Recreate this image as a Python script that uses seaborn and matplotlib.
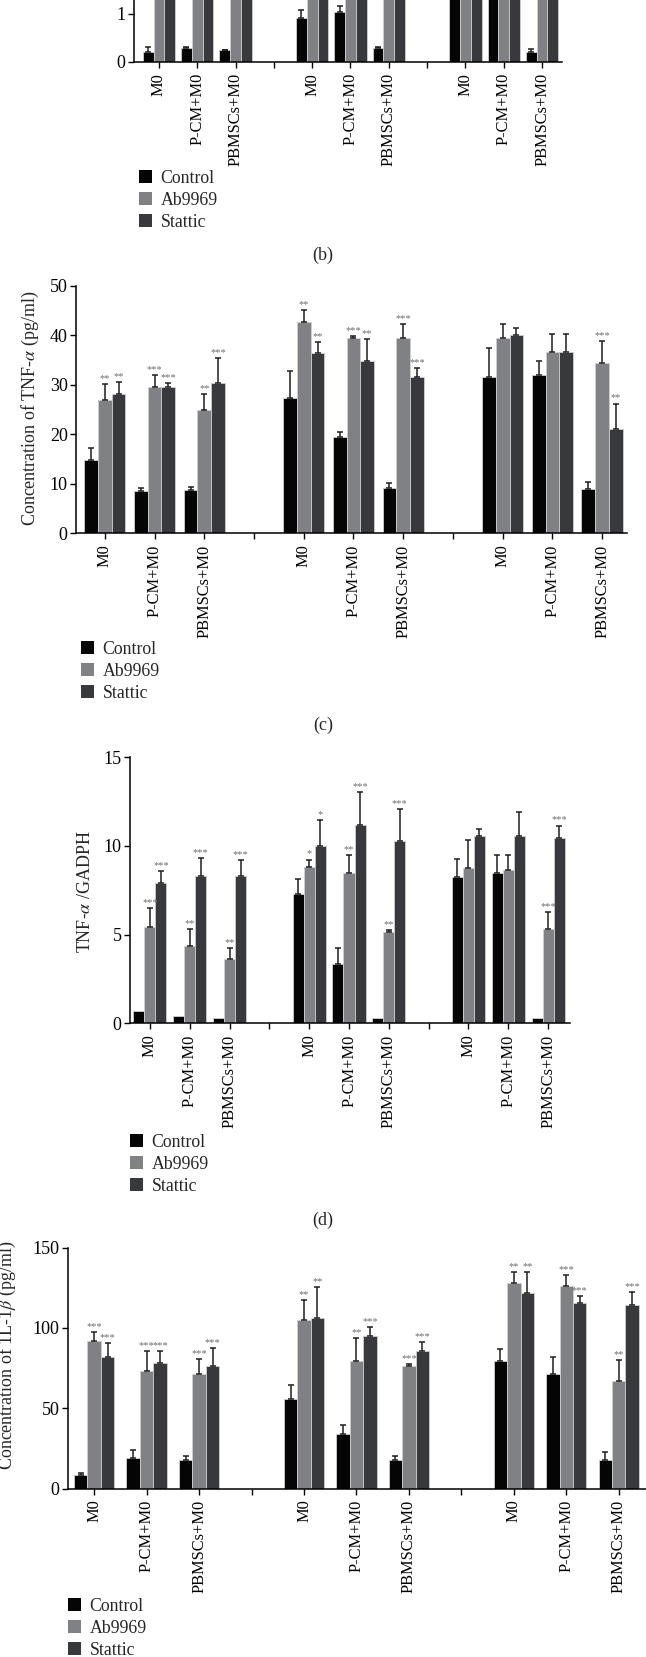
import numpy as np
import pandas as pd
import matplotlib
matplotlib.use("Agg")
import matplotlib.pyplot as plt
from matplotlib.patches import Patch
import seaborn as sns

# ---- data ----
groups = ['M0', 'P-CM+M0', 'PBMSCs+M0'] * 3
treatments = ['Control', 'Ab9969', 'Stattic']
colors = ['#050505', '#808184', '#38393d']

# slot layout: 3 clusters of 3 groups with one empty slot between clusters
slots = [0, 1, 2, 4, 5, 6, 8, 9, 10]
tick_labels = ['M0', 'P-CM+M0', 'PBMSCs+M0', '', 'M0', 'P-CM+M0', 'PBMSCs+M0',
               '', 'M0', 'P-CM+M0', 'PBMSCs+M0']

# top panel (cut off at the top of the figure)
top_ctrl = [0.21, 0.29, 0.245, 0.91, 1.05, 0.28, 1.9, 1.8, 0.21]
top_ctrl_err = [0.09, 0.02, 0.01, 0.17, 0.12, 0.03, 0.2, 0.2, 0.05]
top_ab = [3.1, 3.4, 2.9, 3.8, 3.6, 3.3, 3.5, 3.2, 3.0]
top_ab_err = [0.3, 0.3, 0.2, 0.4, 0.3, 0.3, 0.3, 0.3, 0.3]
top_st = [3.5, 3.6, 3.3, 4.0, 3.9, 3.7, 3.8, 3.6, 3.4]
top_st_err = [0.3, 0.3, 0.3, 0.3, 0.3, 0.3, 0.3, 0.3, 0.3]

# TNF-alpha concentration (pg/ml)
tnf_ctrl = [14.8, 8.6, 8.75, 27.4, 19.5, 9.2, 31.6, 31.9, 8.9]
tnf_ctrl_err = [2.4, 0.5, 0.7, 5.4, 1.0, 1.0, 5.9, 2.9, 1.5]
tnf_ab = [27.0, 29.5, 24.9, 42.6, 39.5, 39.5, 39.4, 36.7, 34.4]
tnf_ab_err = [3.1, 2.5, 3.2, 2.5, 0.3, 2.8, 2.9, 3.6, 4.4]
tnf_st = [28.2, 29.5, 30.3, 36.4, 34.7, 31.6, 40.1, 36.6, 21.1]
tnf_st_err = [2.3, 0.9, 5.0, 2.2, 4.6, 1.8, 1.4, 3.7, 5.1]
tnf_ab_sig = ['**', '***', '**', '**', '***', '***', '', '', '***']
tnf_st_sig = ['**', '***', '***', '**', '**', '***', '', '', '**']

# TNF-alpha / GADPH
gap_ctrl = [0.71, 0.41, 0.32, 7.27, 3.35, 0.32, 8.25, 8.46, 0.32]
gap_ctrl_err = [0, 0, 0, 0.85, 0.88, 0, 1.04, 1.05, 0]
gap_ab = [5.41, 4.34, 3.65, 8.80, 8.48, 5.17, 8.78, 8.65, 5.34]
gap_ab_err = [1.11, 0.96, 0.58, 0.43, 0.99, 0.09, 1.54, 0.86, 0.92]
gap_st = [7.93, 8.29, 8.29, 10.0, 11.17, 10.26, 10.58, 10.58, 10.43]
gap_st_err = [0.64, 1.03, 0.90, 1.45, 1.86, 1.83, 0.40, 1.36, 0.72]
gap_ab_sig = ['***', '**', '**', '*', '**', '**', '', '', '***']
gap_st_sig = ['***', '***', '***', '*', '***', '***', '', '', '***']

# IL-1beta concentration (pg/ml)
il_ctrl = [8.5, 19.0, 18.0, 55.6, 34.1, 18.0, 79.2, 71.3, 18.0]
il_ctrl_err = [1.2, 4.7, 2.4, 8.9, 5.5, 2.0, 7.7, 10.8, 4.5]
il_ab = [91.8, 73.4, 71.3, 104.7, 79.4, 76.5, 128.0, 126.4, 67.2]
il_ab_err = [5.8, 12.0, 9.1, 12.6, 14.3, 0.8, 6.7, 6.4, 13.0]
il_st = [81.7, 78.2, 76.3, 106.3, 95.0, 85.8, 122.0, 115.6, 114.6]
il_st_err = [9.1, 7.6, 11.4, 19.3, 5.3, 5.6, 12.9, 4.4, 7.7]
il_ab_sig = ['***', '***', '***', '**', '**', '***', '**', '***', '**']
il_st_sig = ['***', '***', '***', '**', '***', '***', '**', '***', '***']

sns.set_style('ticks')
plt.rcParams['font.family'] = ['Liberation Serif', 'DejaVu Serif']
plt.rcParams['mathtext.fontset'] = 'stix'

W, H = 646, 1657
fig = plt.figure(figsize=(W / 100, H / 100), dpi=100)
fig.patch.set_facecolor('white')


def px_axes(left, top, right, bottom):
    return fig.add_axes([left / W, 1 - bottom / H, (right - left) / W, (bottom - top) / H])


def draw_panel(ax, vals, errs, sigs, xlim, ylim, yticks, width):
    slot_names = ['s%d' % i for i in range(11)]
    rows = []
    for t, v in zip(treatments, vals):
        for k in range(9):
            rows.append({'slot': slot_names[slots[k]], 'Treatment': t, 'value': v[k]})
    df = pd.DataFrame(rows)
    sns.barplot(data=df, x='slot', y='value', hue='Treatment', order=slot_names,
                hue_order=treatments, palette=colors, width=width, errorbar=None,
                legend=False, edgecolor='#cfcfcf', linewidth=0.6, saturation=1, ax=ax)
    ax.set_xlim(*xlim)
    ax.set_ylim(*ylim)
    # one-sided error bars and significance stars
    bar_conts = list(ax.containers)
    for j, cont in enumerate(bar_conts):
        for bar in cont.patches:
            cx = bar.get_x() + bar.get_width() / 2
            h = bar.get_height()
            k = slots.index(int(round(cx)))
            e = errs[j][k]
            if e > 0:
                ax.errorbar(cx, h, yerr=[[0], [e]], fmt='none', ecolor='#1e1e1e',
                            elinewidth=1.1, capsize=2.2, capthick=1.1, zorder=3)
            if sigs is not None and j > 0 and sigs[j - 1][k]:
                ax.text(cx, h + e + (ylim[1] - ylim[0]) * 0.004, sigs[j - 1][k],
                        ha='center', va='bottom', fontsize=7.5, color='#6e6e6e')
    ax.set_xticks(range(11))
    ax.set_xticklabels(tick_labels, rotation=90, fontsize=11.8)
    ax.set_yticks(yticks)
    ax.set_yticklabels([str(t) for t in yticks], fontsize=13)
    ax.set_xlabel('')
    ax.set_ylabel('')
    ax.tick_params(axis='both', direction='out', length=4, width=1, colors='black')
    ax.tick_params(axis='x', pad=4)
    ax.tick_params(axis='y', pad=2)
    sns.despine(ax=ax)
    for s in ['left', 'bottom']:
        ax.spines[s].set_linewidth(1.1)
        ax.spines[s].set_color('black')


def add_legend(ax, x, y):
    handles = [Patch(facecolor=c, edgecolor='none') for c in colors]
    ax.legend(handles, treatments, loc='upper left', bbox_to_anchor=(x / W, 1 - y / H),
              bbox_transform=fig.transFigure, frameon=False, borderaxespad=0, borderpad=0,
              handlelength=0.72, handleheight=0.72, handletextpad=0.5,
              labelspacing=0.28, fontsize=12.8)


# top panel, only the lower part is inside the figure
ax0 = px_axes(134, -176.8, 562, 61.7)
draw_panel(ax0, [top_ctrl, top_ab, top_st], [top_ctrl_err, top_ab_err, top_st_err],
           None, (-0.65, 10.52), (0, 5), [0, 1], 0.84)
add_legend(ax0, 139, 170)
fig.text(323 / W, 1 - 255 / H, '(b)', ha='center', va='center', fontsize=13)

# TNF-alpha concentration
ax1 = px_axes(76, 285.7, 627, 533.3)
draw_panel(ax1, [tnf_ctrl, tnf_ab, tnf_st], [tnf_ctrl_err, tnf_ab_err, tnf_st_err],
           [tnf_ab_sig, tnf_st_sig], (-0.58, 10.5), (0, 50), [0, 10, 20, 30, 40, 50], 0.83)
add_legend(ax1, 81, 641)
fig.text(30 / W, 1 - 408 / H, r'Concentration of TNF-$\alpha$ (pg/ml)', rotation=90,
         ha='center', va='center', fontsize=13)
fig.text(323 / W, 1 - 725 / H, '(c)', ha='center', va='center', fontsize=13)

# TNF-alpha / GADPH
ax2 = px_axes(130, 757.3, 570, 1023.3)
draw_panel(ax2, [gap_ctrl, gap_ab, gap_st], [gap_ctrl_err, gap_ab_err, gap_st_err],
           [gap_ab_sig, gap_st_sig], (-0.5, 10.55), (0, 15), [0, 5, 10, 15], 0.83)
add_legend(ax2, 130, 1134)
fig.text(85 / W, 1 - 892 / H, r'TNF-$\alpha$ /GADPH', rotation=90,
         ha='center', va='center', fontsize=13)
fig.text(323 / W, 1 - 1220 / H, '(d)', ha='center', va='center', fontsize=13)

# IL-1beta concentration
ax3 = px_axes(68, 1247.7, 646, 1488.5)
draw_panel(ax3, [il_ctrl, il_ab, il_st], [il_ctrl_err, il_ab_err, il_st_err],
           [il_ab_sig, il_st_sig], (-0.5, 10.52), (0, 150), [0, 50, 100, 150], 0.77)
add_legend(ax3, 68, 1598)
fig.text(7 / W, 1 - 1355 / H, r'Concentration of 1L-1$\beta$ (pg/ml)', rotation=90,
         ha='center', va='center', fontsize=13)

fig.savefig('out.png', dpi=100)
